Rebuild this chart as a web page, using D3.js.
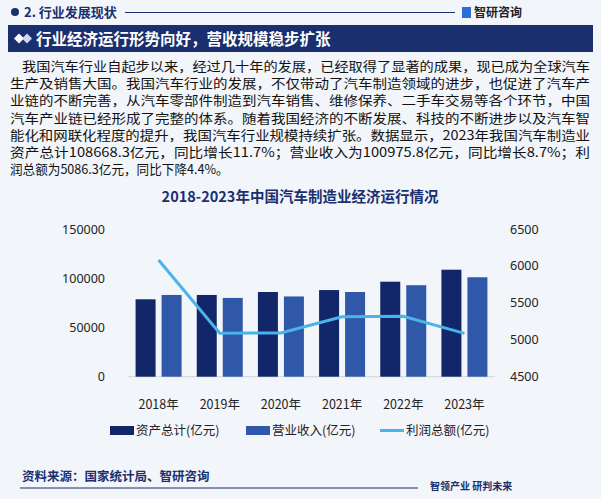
<!DOCTYPE html><html><head><meta charset="utf-8"><script src="https://cdn.jsdelivr.net/npm/d3@7"></script>
<style>body{margin:0;background:#f2f5fa;font-family:"Noto Sans CJK SC","Noto Sans",sans-serif}</style></head><body>
<svg id="c" width="601" height="499"></svg>
<script>
const years=["2018年","2019年","2020年","2021年","2022年","2023年"];
const assets=[78600,83000,86000,88000,96500,108668.3];
const revenue=[83000,80000,81500,86000,92900,100975.8];
const profit=[6080,5090,5093,5312,5319,5086.3];
const leftTicks=[0,50000,100000,150000];
const rightTicks=[4500,5000,5500,6000,6500];
const para=["我国汽车行业自起步以来，经过几十年的发展，已经取得了显著的成果，现已成为全球汽车",
"生产及销售大国。我国汽车行业的发展，不仅带动了汽车制造领域的进步，也促进了汽车产",
"业链的不断完善，从汽车零部件制造到汽车销售、维修保养、二手车交易等各个环节，中国",
"汽车产业链已经形成了完整的体系。随着我国经济的不断发展、科技的不断进步以及汽车智",
"能化和网联化程度的提升，我国汽车行业规模持续扩张。数据显示，2023年我国汽车制造业",
"资产总计108668.3亿元，同比增长11.7%；营业收入为100975.8亿元，同比增长8.7%；利",
"润总额为5086.3亿元，同比下降4.4%。"];
const svg=d3.select("#c");
const navy="#1a2f6e";
svg.append("circle").attr("cx",15).attr("cy",12).attr("r",4).attr("fill",navy);
svg.append("text").attr("x",24).attr("y",17).text("2. 行业发展现状").attr("font-size",13).attr("font-weight","bold").attr("fill","#1a2f6e");
svg.append("line").attr("x1",125).attr("x2",455).attr("y1",12.5).attr("y2",12.5).attr("stroke",navy).attr("stroke-width",1.2);
svg.append("rect").attr("x",462).attr("y",7).attr("width",9).attr("height",11).attr("fill","#2b6fd6");
svg.append("text").attr("x",474).attr("y",17).text("智研咨询").attr("font-size",12).attr("font-weight","bold").attr("fill","#222");
svg.append("rect").attr("x",8).attr("y",25).attr("width",585).attr("height",27).attr("fill",navy);
svg.append("path").attr("d","M14,38.5 L19,33.5 L24,38.5 L19,43.5Z").attr("fill","#fff");
svg.append("path").attr("d","M22,38.5 L27,33.5 L32,38.5 L27,43.5Z").attr("fill","#cfd8ea");
svg.append("text").attr("x",36).attr("y",45).text("行业经济运行形势向好，营收规模稳步扩张").attr("font-size",15.5).attr("font-weight","bold").attr("fill","#fff");
svg.append("g").selectAll("text").data(para).join("text").attr("x",(d,i)=>i==0?22:10).attr("y",(d,i)=>71+i*17.2).text(d=>d).attr("font-size",12.6).attr("fill","#111").attr("textLength",(d,i)=>i==6?null:(i==0?568:580)).attr("lengthAdjust","spacingAndGlyphs");
svg.append("text").attr("x",300).attr("y",202).attr("text-anchor","middle").text("2018-2023年中国汽车制造业经济运行情况").attr("font-size",14.5).attr("font-weight","bold").attr("fill","#1a2f6e");
const x=d3.scaleBand().domain(years).range([128,495]);
const yl=d3.scaleLinear().domain([0,150000]).range([376.7,229]);
const yr=d3.scaleLinear().domain([4500,6500]).range([376.7,229]);
svg.append("line").attr("x1",128).attr("x2",495).attr("y1",yl(0)).attr("y2",yl(0)).attr("stroke","#d0d4dc");
const bw=20,gap=6;
svg.append("g").selectAll("rect").data(assets).join("rect").attr("x",(d,i)=>x(years[i])+x.bandwidth()/2-bw-gap/2).attr("width",bw).attr("y",d=>yl(d)).attr("height",d=>yl(0)-yl(d)).attr("fill","#12276a");
svg.append("g").selectAll("rect").data(revenue).join("rect").attr("x",(d,i)=>x(years[i])+x.bandwidth()/2+gap/2).attr("width",bw).attr("y",d=>yl(d)).attr("height",d=>yl(0)-yl(d)).attr("fill","#2f58a8");
svg.append("path").datum(profit).attr("d",d3.line().x((d,i)=>x(years[i])+x.bandwidth()/2).y(d=>yr(d))).attr("fill","none").attr("stroke","#49b4ea").attr("stroke-width",3);
const ax=svg.append("g").attr("transform","translate(0,"+(yl(0)+20)+")").call(d3.axisBottom(x).tickSize(0));
ax.select(".domain").remove();
ax.selectAll("text").attr("font-size",12.5).attr("fill","#222").attr("font-family","Noto Sans CJK SC");
const al=svg.append("g").attr("transform","translate(108,0)").call(d3.axisLeft(yl).tickValues(leftTicks).tickSize(0).tickFormat(d3.format("d")));
al.select(".domain").remove();al.selectAll("text").attr("font-size",12.5).attr("fill","#222").attr("font-family","Noto Sans");
const ar=svg.append("g").attr("transform","translate(507,0)").call(d3.axisRight(yr).tickValues(rightTicks).tickSize(0).tickFormat(d3.format("d")));
ar.select(".domain").remove();ar.selectAll("text").attr("font-size",12.5).attr("fill","#222").attr("font-family","Noto Sans");
const lg=[{t:"资产总计(亿元)",c:"#12276a",x:110,type:"r"},{t:"营业收入(亿元)",c:"#2f58a8",x:246,type:"r"},{t:"利润总额(亿元)",c:"#49b4ea",x:380,type:"l"}];
lg.forEach(o=>{
 if(o.type=="r") svg.append("rect").attr("x",o.x).attr("y",426).attr("width",24).attr("height",9).attr("fill",o.c);
 else svg.append("line").attr("x1",o.x).attr("x2",o.x+24).attr("y1",430.5).attr("y2",430.5).attr("stroke",o.c).attr("stroke-width",3);
 svg.append("text").attr("x",o.x+26).attr("y",435).text(o.t).attr("font-size",12.5).attr("fill","#222");
});
svg.append("text").attr("x",22).attr("y",481).text("资料来源：国家统计局、智研咨询").attr("font-size",12.5).attr("fill","#1a2f6e").attr("font-weight","bold");
svg.append("line").attr("x1",20).attr("x2",418).attr("y1",488).attr("y2",488).attr("stroke",navy);
svg.append("text").attr("x",430).attr("y",490).text("智领产业 研判未来").attr("font-size",10).attr("fill","#1a2f6e").attr("font-weight","bold");
</script></body></html>
